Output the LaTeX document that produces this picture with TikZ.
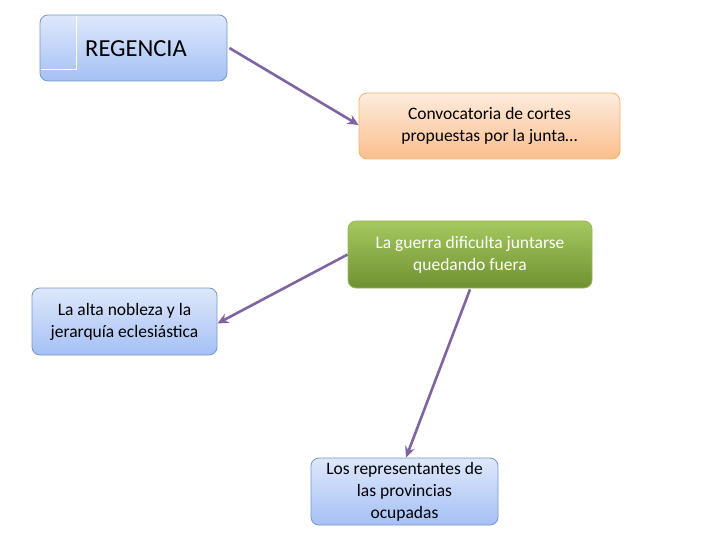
\documentclass[tikz,border=0pt]{standalone}
\usepackage{fontspec}
\setmainfont{Carlito}
\usetikzlibrary{arrows.meta}
\begin{document}
\begin{tikzpicture}[x=1pt,y=-1pt,
  box/.style={draw, rounded corners=8pt, line width=0.8pt, align=center, inner sep=0pt},
  bluebox/.style={box, top color={rgb,255:red,222;green,232;blue,252}, bottom color={rgb,255:red,165;green,192;blue,245}, draw={rgb,255:red,120;green,150;blue,200}},
  orangebox/.style={box, top color={rgb,255:red,253;green,236;blue,222}, bottom color={rgb,255:red,251;green,190;blue,140}, draw={rgb,255:red,245;green,180;blue,110}},
  greenbox/.style={box, top color={rgb,255:red,165;green,200;blue,95}, bottom color={rgb,255:red,112;green,145;blue,50}, draw={rgb,255:red,150;green,185;blue,90}, text=white},
  txt/.style={font=\fontsize{17.5}{22}\selectfont},
  conn/.style={draw={rgb,255:red,128;green,100;blue,162}, line width=2.6pt, -{Stealth[length=11pt,width=10pt]}}]
\useasboundingbox (0,0) rectangle (720,540);
\node[bluebox, minimum width=187pt, minimum height=66pt] (reg) at (133.5,48) {};
\draw[white, line width=0.8pt] (76,16) -- (76,69) -- (41,69);
\node[font=\fontsize{24.5}{28}\selectfont, anchor=west, inner sep=0pt] (regt) at (85,49) {REGENCIA};
\node[orangebox, txt, minimum width=261pt, minimum height=66pt] (conv) at (489.5,126) {Convocatoria de cortes\\propuestas por la junta…};
\node[greenbox, txt, minimum width=244pt, minimum height=67pt] (guerra) at (470,254.5) {La guerra dificulta juntarse\\quedando fuera};
\node[bluebox, txt, minimum width=185pt, minimum height=67pt] (nob) at (124.5,321.5) {La alta nobleza y la\\jerarquía eclesiástica};
\node[bluebox, txt, minimum width=187pt, minimum height=67pt] (rep) at (404.5,491.5) {Los representantes de\\las provincias\\ocupadas};
\path (reg.east) ++(2,0) coordinate (a1);
\draw[conn] (a1) -- (conv.west |- 0,125);
\draw[conn] (guerra.west) -- ([yshift=-2pt]nob.east);
\path (guerra.south) ++(0,1) coordinate (a3);
\draw[conn] (a3) -- ([xshift=1.5pt]rep.north);
\end{tikzpicture}
\end{document}
